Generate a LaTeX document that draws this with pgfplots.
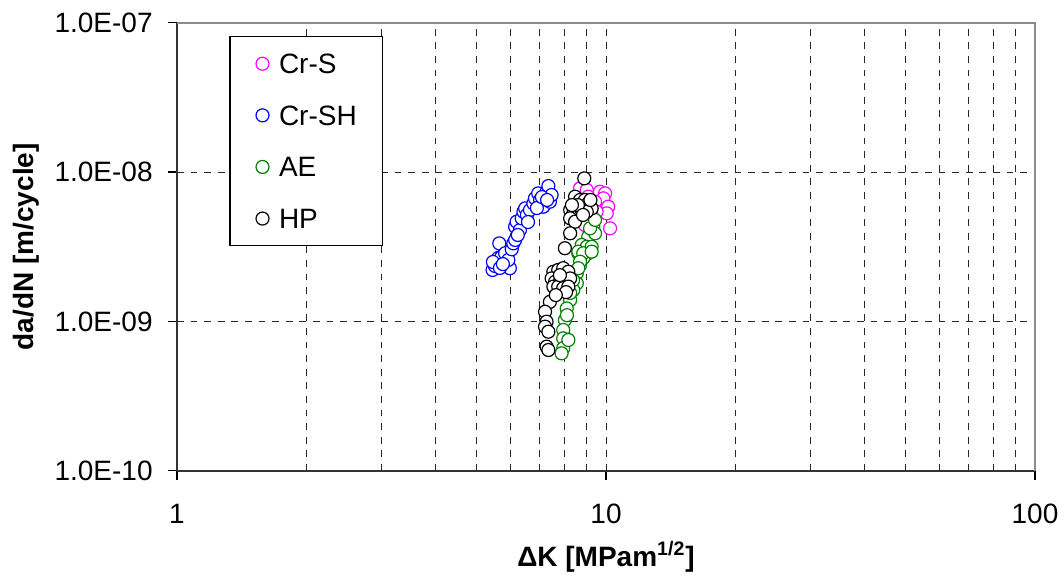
\documentclass[border=0pt]{standalone}
\usepackage{fontspec}
\setmainfont{Liberation Sans}
\usepackage{pgfplots}
\pgfplotsset{compat=1.18}

\definecolor{crs}{HTML}{FF00FF}
\definecolor{crsh}{HTML}{0000FF}
\definecolor{ae}{HTML}{008000}

\begin{document}
\begin{tikzpicture}
\path[use as bounding box] (-88.5pt,-51.65pt) rectangle (443.5pt,235.35pt);
\begin{axis}[
  scale only axis,
  width=429pt, height=224pt,
  xmode=log, ymode=log,
  xmin=1, xmax=100,
  ymin=1e-10, ymax=1e-7,
  xtick={1,10,100}, xticklabels={1,10,100},
  ytick={1e-10,1e-9,1e-8,1e-7},
  yticklabels={1.0E-10,1.0E-09,1.0E-08,1.0E-07},
  yminorticks=false,
  axis x line*=bottom, axis y line*=left,
  axis line style={black!80, line width=0.8pt},
  tick align=outside,
  major tick length=4.5pt, minor tick length=0pt,
  tick style={black, line width=0.6pt},
  xmajorgrids, xminorgrids, ymajorgrids,
  major grid style={black!85, line width=0.5pt, dash pattern=on 3.4pt off 3.4pt},
  minor grid style={black!85, line width=0.5pt, dash pattern=on 3.4pt off 3.4pt},
  ticklabel style={font=\fontsize{14}{16.8}\selectfont, inner sep=0pt},
  xticklabel style={anchor=north},
  yticklabel style={anchor=east},
  xticklabel shift=12pt,
  yticklabel shift=7.5pt,
  xlabel={ΔK [MPam\textsuperscript{1/2}]},
  ylabel={da/dN [m/cycle]},
  every axis x label/.style={at={(axis description cs:0.5,-0.2127)}, anchor=base,
    font=\bfseries\fontsize{14}{16.8}\selectfont},
  every axis y label/.style={at={(axis description cs:-0.1678,0.5)}, rotate=90, anchor=base,
    font=\bfseries\fontsize{14}{16.8}\selectfont},
  mark size=3.25pt,
  legend style={at={(axis description cs:0.0611,0.970)}, anchor=north west,
    draw=black, line width=0.6pt, fill=white,
    font=\fontsize{14}{16.8}\selectfont,
    inner xsep=13pt, inner ysep=8.5pt, row sep=15.8pt, column sep=5pt,
    nodes={inner sep=0pt, text height=10pt, text depth=0pt}},
  legend cell align=left,
  after end axis/.code={
    \draw[black!45, line width=0.8pt] (rel axis cs:0,1) -- (rel axis cs:1,1) -- (rel axis cs:1,0);
  },
]
% Cr-S
\addplot[only marks, mark=*, mark options={draw=crs, fill=white, line width=0.6pt}] coordinates {
  (8.70,7.78e-9) (9.02,7.58e-9) (9.09,6.84e-9) (9.68,7.38e-9) (9.95,7.20e-9)
  (9.86,6.67e-9) (10.12,5.86e-9) (10.04,5.29e-9) (10.22,4.20e-9) (9.43,6.33e-9)
  (9.51,5.42e-9) (9.26,5.16e-9) (9.08,3.35e-9) (8.93,4.42e-9)
};
% Cr-SH
\addplot[only marks, mark=*, mark options={draw=crsh, fill=white, line width=0.6pt}] coordinates {
  (5.44,2.21e-9) (5.51,2.35e-9) (5.56,2.51e-9) (5.61,2.66e-9) (5.64,3.33e-9)
  (5.71,2.71e-9) (5.82,2.86e-9) (5.97,2.27e-9) (5.92,2.58e-9) (6.03,3.04e-9)
  (6.08,3.33e-9) (6.14,3.51e-9) (6.14,4.30e-9) (6.19,4.65e-9) (6.30,4.09e-9)
  (6.36,4.90e-9) (6.42,5.42e-9) (6.48,5.71e-9) (6.54,5.16e-9) (6.65,5.57e-9)
  (6.77,6.17e-9) (6.83,6.67e-9) (6.95,7.20e-9) (7.02,6.50e-9) (7.14,5.86e-9)
  (7.21,6.84e-9) (7.27,7.38e-9) (7.34,8.06e-9) (7.40,6.33e-9) (7.47,7.02e-9)
  (5.45,2.50e-9) (5.66,2.28e-9) (5.75,2.42e-9) (6.23,3.79e-9) (6.58,4.63e-9)
  (6.90,5.74e-9) (7.09,6.80e-9) (7.29,6.50e-9)
};
% AE
\addplot[only marks, mark=*, mark options={draw=ae, fill=white, line width=0.6pt}] coordinates {
  (9.09,2.86e-9) (8.85,2.65e-9) (8.62,2.86e-9) (8.70,2.38e-9) (8.55,2.10e-9)
  (8.55,1.80e-9) (8.39,1.62e-9) (8.25,1.39e-9) (8.10,1.22e-9) (8.02,1.02e-9)
  (7.95,8.76e-10) (7.95,7.70e-10) (7.95,6.61e-10) (7.88,6.11e-10) (8.17,7.51e-10)
  (9.34,4.30e-9) (9.18,3.98e-9) (9.09,3.69e-9) (8.78,3.25e-9) (9.02,3.16e-9)
  (9.26,3.16e-9) (8.62,2.93e-9) (8.85,2.86e-9) (9.26,2.93e-9) (8.70,2.51e-9)
  (8.62,2.27e-9) (9.43,3.89e-9) (9.18,4.20e-9) (9.43,4.78e-9) (8.38,1.89e-9)
  (8.25,1.55e-9) (8.11,1.10e-9)
};
% HP
\addplot[only marks, mark=*, mark options={draw=black, fill=white, line width=0.6pt}] coordinates {
  (8.90,9.07e-9) (8.47,6.84e-9) (8.70,6.50e-9) (8.93,6.50e-9) (9.09,6.17e-9)
  (9.26,5.71e-9) (8.25,5.57e-9) (8.39,5.29e-9) (8.55,5.71e-9) (8.78,5.57e-9)
  (9.02,5.42e-9) (8.25,4.90e-9) (8.47,4.65e-9) (8.25,3.89e-9) (8.02,3.09e-9)
  (8.60,6.01e-9) (9.20,6.50e-9) (8.33,6.01e-9) (8.84,5.16e-9)
  (7.54,2.15e-9) (7.74,2.21e-9) (7.95,2.27e-9) (8.17,2.15e-9) (7.47,1.94e-9)
  (7.61,1.84e-9) (7.81,1.84e-9) (8.02,1.89e-9) (8.25,1.94e-9) (7.54,1.71e-9)
  (7.74,1.71e-9) (7.95,1.67e-9) (8.17,1.71e-9) (7.40,1.35e-9) (7.21,1.16e-9)
  (7.27,9.95e-10) (7.21,9.22e-10) (7.34,8.53e-10) (7.27,6.77e-10) (7.34,6.43e-10)
  (7.81,2.04e-9) (8.07,1.57e-9) (7.64,1.50e-9)
};
\legend{Cr-S,Cr-SH,AE,HP}
\end{axis}
\end{tikzpicture}
\end{document}
